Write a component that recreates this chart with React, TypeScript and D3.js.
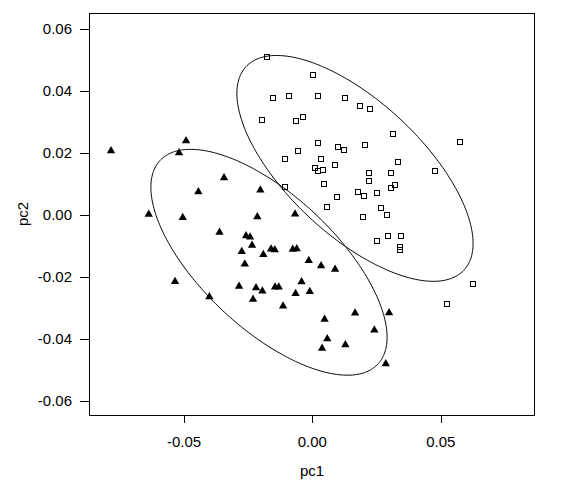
import React from "react";
import * as d3 from "d3";

// Group 1 (filled triangles): pc1, pc2
const triX = [-0.07842, -0.0492, -0.05193, -0.0344, -0.04441, -0.02026, -0.06373, -0.05049, -0.02143, -0.03615, -0.02583, -0.02427, -0.02349, -0.01609, -0.01465, -0.0275, -0.01909, -0.0263, -0.05349, -0.00674, -0.00764, -0.00608, -0.0014, 0.00339, 0.00884, -0.04012, -0.02855, -0.02193, -0.01948, -0.01453, -0.01309, -0.00421, -0.0231, -0.00654, -0.00101, -0.01141, 0.01663, 0.02988, 0.00475, 0.02415, 0.0058, 0.00378, 0.01286, 0.02859];
const triY = [0.02069, 0.02392, 0.02005, 0.01198, 0.00746, 0.00801, 0.00016, -0.00087, -0.00061, -0.00565, -0.00678, -0.00717, -0.00981, -0.01104, -0.0113, -0.01185, -0.01282, -0.01588, -0.02153, 0.00026, -0.01114, -0.01094, -0.01475, -0.01643, -0.01759, -0.02644, -0.02308, -0.02354, -0.0246, -0.02331, -0.02331, -0.0216, -0.02728, -0.02541, -0.02476, -0.02944, -0.0317, -0.03161, -0.0337, -0.03719, -0.04003, -0.04307, -0.04197, -0.04807];

// Group 2 (open squares): pc1, pc2
const sqX = [-0.01753, 0.00039, -0.01543, -0.00919, 0.0021, 0.01262, 0.01847, 0.02259, -0.01971, -0.00635, -0.00374, 0.03136, 0.05765, 0.0021, -0.00569, 0.00989, 0.01247, 0.02041, -0.01075, 0.00339, 0.00873, 0.03327, 0.00117, 0.0021, 0.00405, 0.0222, 0.03054, 0.04792, 0.02197, 0.00467, 0.0321, 0.03054, -0.01075, 0.0178, 0.02002, 0.02532, 0.00962, 0.00584, 0.02676, 0.02898, 0.01975, 0.02937, 0.03467, 0.02532, 0.03405, 0.03428, 0.06248, 0.05259];
const sqY = [0.05104, 0.04523, 0.0378, 0.03835, 0.03845, 0.0378, 0.03522, 0.03425, 0.03051, 0.03038, 0.03148, 0.02599, 0.02341, 0.02324, 0.02069, 0.02199, 0.02086, 0.02244, 0.01808, 0.01808, 0.01614, 0.01695, 0.01511, 0.01424, 0.01437, 0.0134, 0.0134, 0.01404, 0.01101, 0.00994, 0.00952, 0.00875, 0.00888, 0.00726, 0.00597, 0.00713, 0.00584, 0.00242, 0.0022, -0.00016, -0.00081, -0.00675, -0.00675, -0.00856, -0.0104, -0.01127, -0.02244, -0.0287];

// Ellipses: centre (pc1, pc2), spread in pc1, spread in pc2, correlation
const ellipseCx = [-0.0169, 0.0166];
const ellipseCy = [-0.0153, 0.015];
const ellipseSx = [0.046, 0.046];
const ellipseSy = [0.03645, 0.03645];
const ellipseRho = [-0.664, -0.664];

const xTicks = [-0.05, 0, 0.05];
const yTicks = [-0.06, -0.04, -0.02, 0, 0.02, 0.04, 0.06];

const W = 583;
const H = 482;
const L = 89.5, R = 534.5, T = 13.5, B = 415.5;
const FONT = "'Liberation Sans', Arial, sans-serif";

export default function App() {
  const x = d3.scaleLinear().domain([-0.087, 0.0866]).range([89, 534.7]);
  const y = d3.scaleLinear().domain([-0.0646, 0.065]).range([415, 13.5]);
  const fmt = d3.formatLocale({ decimal: ".", thousands: ",", grouping: [3], currency: ["", ""], minus: "-" }).format(".2f");
  const tri = d3.symbol(d3.symbolTriangle, 30)()!;
  const ts = d3.range(0, 361).map((d) => (d * Math.PI) / 180);

  const ellipses = ellipseCx.map((cx, i) => {
    const pts = ts.map((t) => {
      const px = cx + ellipseSx[i] * Math.cos(t);
      const py =
        ellipseCy[i] +
        ellipseSy[i] * (ellipseRho[i] * Math.cos(t) + Math.sqrt(1 - ellipseRho[i] ** 2) * Math.sin(t));
      return [x(px), y(py)] as [number, number];
    });
    return d3.line().curve(d3.curveLinearClosed)(pts)!;
  });

  return (
    <svg
      width={W}
      height={H}
      style={{ position: "absolute", left: 0, top: 0, background: "#fff" }}
      fontFamily={FONT}
    >
      <rect x={0} y={0} width={W} height={H} fill="#fff" />
      {ellipses.map((d, i) => (
        <path key={i} d={d} fill="none" stroke="#000" strokeWidth={1} />
      ))}
      {triX.map((v, i) => (
        <path key={"t" + i} d={tri} transform={`translate(${x(v)},${y(triY[i])})`} fill="#000" />
      ))}
      {sqX.map((v, i) => (
        <rect
          key={"s" + i}
          x={Math.round(x(v)) - 2.5}
          y={Math.round(y(sqY[i])) - 2.5}
          width={5}
          height={5}
          fill="none"
          stroke="#000"
          strokeWidth={1}
        />
      ))}
      <rect x={L} y={T} width={R - L} height={B - T} fill="none" stroke="#000" strokeWidth={1} shapeRendering="crispEdges" />
      {xTicks.map((t) => (
        <g key={"x" + t}>
          <line x1={Math.round(x(t)) + 0.5} x2={Math.round(x(t)) + 0.5} y1={B} y2={B + 7} stroke="#000" shapeRendering="crispEdges" />
          <text x={x(t)} y={446.5} fontSize={15} textAnchor="middle" fill="#000">
            {fmt(t)}
          </text>
        </g>
      ))}
      {yTicks.map((t) => (
        <g key={"y" + t}>
          <line x1={L - 10} x2={L} y1={Math.round(y(t)) + 0.5} y2={Math.round(y(t)) + 0.5} stroke="#000" shapeRendering="crispEdges" />
          <text x={72} y={y(t)} dy="0.36em" fontSize={15} textAnchor="end" fill="#000">
            {fmt(t)}
          </text>
        </g>
      ))}
      <text x={312} y={476} fontSize={15} textAnchor="middle" fill="#000">
        pc1
      </text>
      <text transform="translate(28,214) rotate(-90)" fontSize={15} textAnchor="middle" fill="#000">
        pc2
      </text>
    </svg>
  );
}
